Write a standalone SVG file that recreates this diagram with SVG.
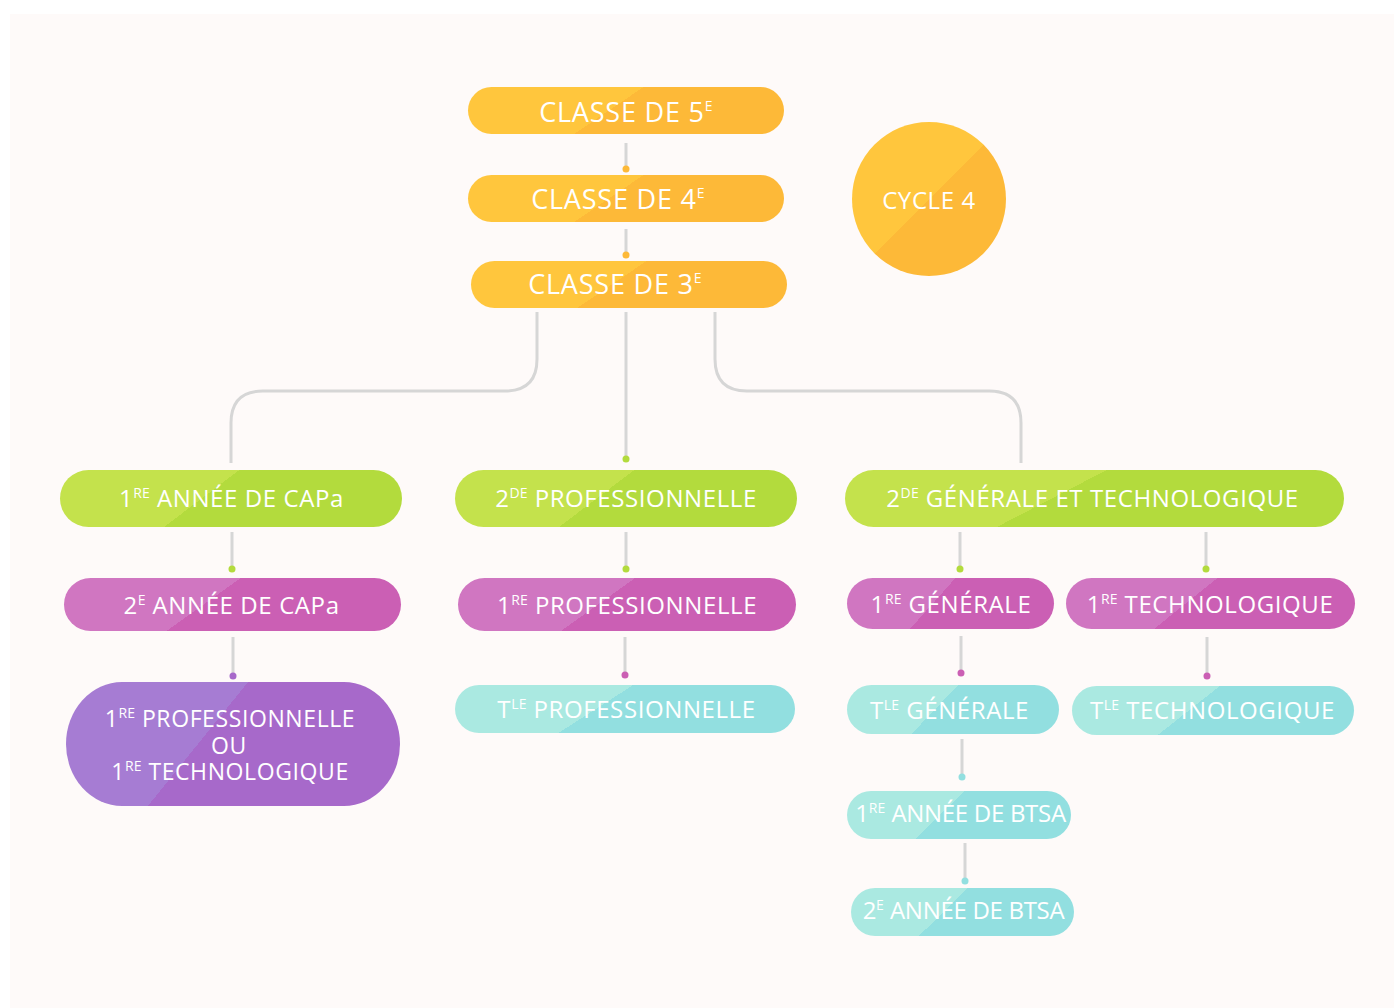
<svg xmlns="http://www.w3.org/2000/svg" width="1394" height="1008" viewBox="0 0 1394 1008">
<defs>
<linearGradient id="gY" x1="0" y1="0" x2="1" y2="0.22"><stop offset="0" stop-color="#FFC63D"/><stop offset="0.53" stop-color="#FFC63D"/><stop offset="0.53" stop-color="#FDB938"/><stop offset="1" stop-color="#FDB938"/></linearGradient>
<linearGradient id="gC" x1="0" y1="0" x2="1" y2="1"><stop offset="0" stop-color="#FFC63D"/><stop offset="0.5" stop-color="#FFC63D"/><stop offset="0.5" stop-color="#FDB938"/><stop offset="1" stop-color="#FDB938"/></linearGradient>
<linearGradient id="gG" x1="0" y1="0" x2="1" y2="0.22"><stop offset="0" stop-color="#C4E24C"/><stop offset="0.5" stop-color="#C4E24C"/><stop offset="0.5" stop-color="#B3DB3D"/><stop offset="1" stop-color="#B3DB3D"/></linearGradient>
<linearGradient id="gP" x1="0" y1="0" x2="1" y2="0.22"><stop offset="0" stop-color="#D076C1"/><stop offset="0.5" stop-color="#D076C1"/><stop offset="0.5" stop-color="#CB5FB4"/><stop offset="1" stop-color="#CB5FB4"/></linearGradient>
<linearGradient id="gV" x1="0" y1="0" x2="1" y2="0.3"><stop offset="0" stop-color="#A67CD3"/><stop offset="0.5" stop-color="#A67CD3"/><stop offset="0.5" stop-color="#A769CA"/><stop offset="1" stop-color="#A769CA"/></linearGradient>
<linearGradient id="gT" x1="0" y1="0" x2="1" y2="0.22"><stop offset="0" stop-color="#AAE9E1"/><stop offset="0.5" stop-color="#AAE9E1"/><stop offset="0.5" stop-color="#92DFE0"/><stop offset="1" stop-color="#92DFE0"/></linearGradient>
</defs>
<style>
text{font-family:"Open Sans","Noto Sans","DejaVu Sans",sans-serif;fill:#FFFFFF;text-anchor:middle}
.t1{font-size:27px;letter-spacing:0.8px}
.t2{font-size:24px;letter-spacing:0.6px}
.t3{font-size:23px;letter-spacing:0.6px}
.tb{font-size:24px;letter-spacing:-0.3px}
.s1{font-size:14px;letter-spacing:0.3px}
.s2{font-size:14px;letter-spacing:0.2px}
.ln{fill:none;stroke:#D6D6D6;stroke-width:3}
</style>
<rect x="10" y="14" width="1384" height="994" fill="#FEFAF9"/>

<g id="connectors">
<path class="ln" d="M626 143V167"/>
<path class="ln" d="M626 229V253"/>
<path class="ln" d="M537 312V359Q537 391 505 391H263Q231 391 231 423V463"/>
<path class="ln" d="M626 312V457"/>
<path class="ln" d="M715 312V359Q715 391 747 391H989Q1021 391 1021 423V463"/>
<path class="ln" d="M232 532V567"/>
<path class="ln" d="M626 532V567"/>
<path class="ln" d="M960 532V567"/>
<path class="ln" d="M1206 532V567"/>
<path class="ln" d="M233 637V673"/>
<path class="ln" d="M625 637V673"/>
<path class="ln" d="M961 636V671"/>
<path class="ln" d="M1207 637V674"/>
<path class="ln" d="M962 739V775"/>
<path class="ln" d="M965 843V879"/>
<circle cx="626" cy="169" r="3.5" fill="#FDB938"/>
<circle cx="626" cy="255" r="3.5" fill="#FDB938"/>
<circle cx="626" cy="459" r="3.5" fill="#B3DB3D"/>
<circle cx="232" cy="569" r="3.5" fill="#B3DB3D"/>
<circle cx="626" cy="569" r="3.5" fill="#B3DB3D"/>
<circle cx="960" cy="569" r="3.5" fill="#B3DB3D"/>
<circle cx="1206" cy="569" r="3.5" fill="#B3DB3D"/>
<circle cx="233" cy="676" r="3.5" fill="#A769CA"/>
<circle cx="625" cy="675" r="3.5" fill="#CB5FB4"/>
<circle cx="961" cy="673" r="3.5" fill="#CB5FB4"/>
<circle cx="1207" cy="676" r="3.5" fill="#CB5FB4"/>
<circle cx="962" cy="777" r="3.5" fill="#92DFE0"/>
<circle cx="965" cy="881" r="3.5" fill="#92DFE0"/>
</g>

<g id="n5"><rect x="468" y="87" width="316" height="47" rx="23.5" fill="url(#gY)"/>
<text class="t1" x="626" y="122">CLASSE DE 5<tspan class="s1" dy="-11">E</tspan></text></g>
<g id="n4"><rect x="468" y="175" width="316" height="47" rx="23.5" fill="url(#gY)"/>
<text class="t1" x="618" y="209">CLASSE DE 4<tspan class="s1" dy="-11">E</tspan></text></g>
<g id="n3"><rect x="471" y="261" width="316" height="47" rx="23.5" fill="url(#gY)"/>
<text class="t1" x="615" y="294">CLASSE DE 3<tspan class="s1" dy="-11">E</tspan></text></g>
<g id="cycle"><circle cx="929" cy="199" r="77" fill="url(#gC)"/>
<text class="t2" x="929" y="209">CYCLE 4</text></g>

<g id="capa1"><rect x="60" y="470" width="342" height="57" rx="28.5" fill="url(#gG)"/>
<text class="t2" x="231.5" y="507">1<tspan class="s2" dy="-9">RE</tspan><tspan dy="9"> ANNÉE DE CAPa</tspan></text></g>
<g id="pro2"><rect x="455" y="470" width="342" height="57" rx="28.5" fill="url(#gG)"/>
<text class="t2" x="626" y="507">2<tspan class="s2" dy="-9">DE</tspan><tspan dy="9"> PROFESSIONNELLE</tspan></text></g>
<g id="gt2"><rect x="845" y="470" width="499" height="57" rx="28.5" fill="url(#gG)"/>
<text class="t2" x="1092.5" y="507">2<tspan class="s2" dy="-9">DE</tspan><tspan dy="9"> GÉNÉRALE ET TECHNOLOGIQUE</tspan></text></g>

<g id="capa2"><rect x="64" y="578" width="337" height="53" rx="26.5" fill="url(#gP)"/>
<text class="t2" x="231.5" y="614">2<tspan class="s2" dy="-9">E</tspan><tspan dy="9"> ANNÉE DE CAPa</tspan></text></g>
<g id="pro1"><rect x="458" y="578" width="338" height="53" rx="26.5" fill="url(#gP)"/>
<text class="t2" x="627" y="614">1<tspan class="s2" dy="-9">RE</tspan><tspan dy="9"> PROFESSIONNELLE</tspan></text></g>
<g id="gen1"><rect x="847" y="578" width="207" height="51" rx="25.5" fill="url(#gP)"/>
<text class="t2" x="951" y="613">1<tspan class="s2" dy="-9">RE</tspan><tspan dy="9"> GÉNÉRALE</tspan></text></g>
<g id="tech1"><rect x="1066" y="578" width="289" height="51" rx="25.5" fill="url(#gP)"/>
<text class="t2" x="1210" y="613">1<tspan class="s2" dy="-9">RE</tspan><tspan dy="9"> TECHNOLOGIQUE</tspan></text></g>

<g id="purple"><rect x="66" y="682" width="334" height="124" rx="56" ry="62" fill="url(#gV)"/>
<text class="t3" x="230" y="727">1<tspan class="s2" dy="-9">RE</tspan><tspan dy="9"> PROFESSIONNELLE</tspan></text>
<text class="t3" x="229" y="753.5">OU</text>
<text class="t3" x="230" y="780">1<tspan class="s2" dy="-9">RE</tspan><tspan dy="9"> TECHNOLOGIQUE</tspan></text></g>

<g id="tpro"><rect x="455" y="685" width="340" height="48" rx="24" fill="url(#gT)"/>
<text class="t2" x="626.5" y="718">T<tspan class="s2" dy="-9">LE</tspan><tspan dy="9"> PROFESSIONNELLE</tspan></text></g>
<g id="tgen"><rect x="847" y="685" width="212" height="49" rx="24.5" fill="url(#gT)"/>
<text class="t2" x="949.5" y="719">T<tspan class="s2" dy="-9">LE</tspan><tspan dy="9"> GÉNÉRALE</tspan></text></g>
<g id="ttech"><rect x="1072" y="686" width="282" height="49" rx="24.5" fill="url(#gT)"/>
<text class="t2" x="1212.5" y="719">T<tspan class="s2" dy="-9">LE</tspan><tspan dy="9"> TECHNOLOGIQUE</tspan></text></g>

<g id="btsa1"><rect x="847" y="791" width="224" height="48" rx="24" fill="url(#gT)"/>
<text class="tb" x="960.5" y="822">1<tspan class="s2" dy="-9">RE</tspan><tspan dy="9"> ANNÉE DE BTSA</tspan></text></g>
<g id="btsa2"><rect x="851" y="888" width="223" height="48" rx="24" fill="url(#gT)"/>
<text class="tb" x="963.5" y="919">2<tspan class="s2" dy="-9">E</tspan><tspan dy="9"> ANNÉE DE BTSA</tspan></text></g>
</svg>
